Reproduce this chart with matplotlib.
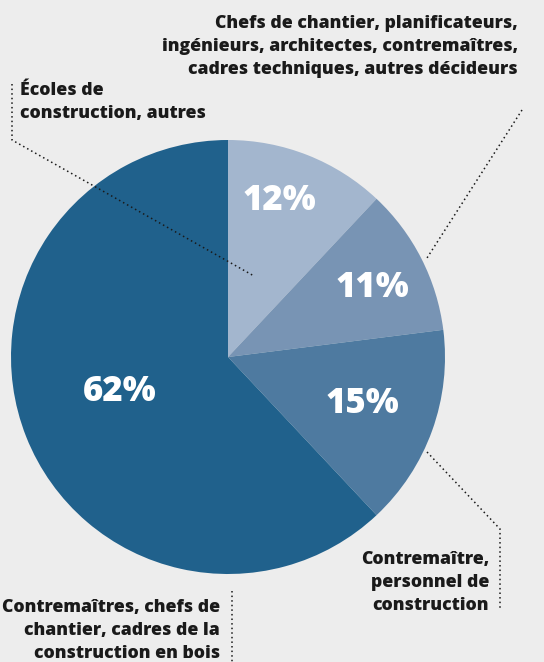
import matplotlib
matplotlib.use("Agg")
import matplotlib.pyplot as plt

# data ---------------------------------------------------------------
shares = [12, 11, 15, 62]
pct_labels = ["12%", "11%", "15%", "62%"]
colors = ["#a3b6ce", "#7894b4", "#4e7aa0", "#20618c"]
group_labels = [
    "Écoles de\nconstruction, autres",
    "Chefs de chantier, planificateurs,\ningénieurs, architectes, contremaîtres,\ncadres techniques, autres décideurs",
    "Contremaître,\npersonnel de\nconstruction",
    "Contremaîtres, chefs de\nchantier, cadres de la\nconstruction en bois",
]

W, H = 544, 662
bg = "#ededed"
txt = "#1a1a1a"

plt.rcParams['font.family'] = ['Open Sans', 'DejaVu Sans']

fig = plt.figure(figsize=(W / 100, H / 100), dpi=100, facecolor=bg)
ax = fig.add_axes([0, 0, 1, 1])
ax.set_facecolor(bg)

def py(y):
    # pixel row (top down) -> data y
    return H - y

cx, cy, r = 228, py(357), 217
ax.pie(shares, colors=colors, startangle=90, counterclock=False,
       center=(cx, cy), radius=r, frame=True,
       wedgeprops=dict(linewidth=0))
ax.set_xlim(0, W)
ax.set_ylim(0, H)
ax.set_aspect('equal')
ax.axis('off')

# percentages inside the slices
pct_pos = [(279, 201), (372, 288), (362, 404), (120, 392)]
for lab, (x, y) in zip(pct_labels, pct_pos):
    ax.text(x, py(y), lab, color="white", fontsize=25, fontweight=800,
            ha='center', va='center')

# group labels
lab_kw = dict(fontsize=12.7, fontweight=800, color=txt, linespacing=1.45)
ax.text(20, py(82), group_labels[0], ha='left', va='top', **lab_kw)
ax.text(518, py(15), group_labels[1], ha='right', va='top', **lab_kw)
ax.text(489, py(551), group_labels[2], ha='right', va='top', **lab_kw)
ax.text(220, py(599), group_labels[3], ha='right', va='top', **lab_kw)

# dotted leaders
lk = dict(color=txt, lw=1.1, ls=(0, (1, 2)))
ax.plot([12, 12, 254], [py(84), py(140), py(276)], **lk)
ax.plot([522, 427], [py(110), py(258)], **lk)
ax.plot([427, 500, 500], [py(452), py(529), py(609)], **lk)
ax.plot([232, 232], [py(591), py(662)], **lk)

fig.savefig("out.png", dpi=100, facecolor=bg)
